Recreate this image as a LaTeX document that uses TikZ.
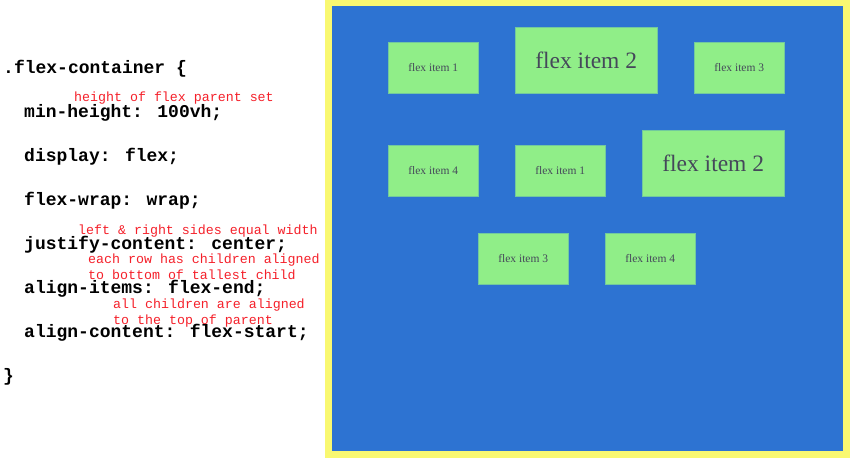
\documentclass[tikz,border=0pt]{standalone}
\usepackage{fontspec}
\newfontfamily\codefont{Liberation Mono}
\newfontfamily\itemfont{Liberation Serif}
\definecolor{panelblue}{HTML}{2D73D2}
\definecolor{itemgreen}{HTML}{90EE88}
\definecolor{frameyellow}{HTML}{F9F871}
\definecolor{itemtext}{HTML}{45485A}
\definecolor{notered}{HTML}{F5202A}
\tikzset{
  code/.style={anchor=base west, inner sep=0pt, font=\codefont\bfseries\fontsize{18}{20}\selectfont, text=black},
  note/.style={anchor=base west, inner sep=0pt, font=\codefont\fontsize{13.3}{15}\selectfont, text=notered},
  item/.style={anchor=north west, inner sep=0pt, fill=itemgreen, draw=itemgreen!70!panelblue, line width=0.4pt, text=itemtext, font=\itemfont\fontsize{11.5}{13}\selectfont, minimum width=90pt, minimum height=51pt},
  bigitem/.style={item, font=\itemfont\fontsize{23.5}{26}\selectfont, minimum width=142pt, minimum height=66pt}
}
\begin{document}
\begin{tikzpicture}[x=1pt,y=-1pt]
\useasboundingbox (0,0) rectangle (850,458);
\fill[white] (0,0) rectangle (850,458);
% frame
\fill[frameyellow] (325,0) rectangle (850,458);
\fill[panelblue] (332,6) rectangle (843,451);
% code
\node[code] (c0) at (3,73) {.flex-container \{};
\node[note] (n1) at (74,101) {height of flex parent set};
\node[code] (c1) at (24,117) {min-height: 100vh;};
\node[code] (c2) at (24,161) {display: flex;};
\node[code] (c3) at (24,205) {flex-wrap: wrap;};
\node[note] (n2) at (78,234) {left \& right sides equal width};
\node[code] (c4) at (24,249) {justify-content: center;};
\node[note] (n3) at (88,263) {each row has children aligned};
\node[note] (n4) at (88,279) {to bottom of tallest child};
\node[code] (c5) at (24,293) {align-items: flex-end;};
\node[note] (n5) at (113,308) {all children are aligned};
\node[note] (n6) at (113,324) {to the top of parent};
\node[code] (c6) at (24,337) {align-content: flex-start;};
\node[code] (c7) at (3,381) {\}};
% items row 1
\node[item] (r1a) at (388,42) {flex item 1};
\node[bigitem] (r1b) at (515,27) {flex item 2};
\node[item] (r1c) at (694,42) {flex item 3};
% row 2
\node[item] (r2a) at (388,145) {flex item 4};
\node[item] (r2b) at (515,145) {flex item 1};
\node[bigitem] (r2c) at (642,130) {flex item 2};
% row 3
\node[item] (r3a) at (478,233) {flex item 3};
\node[item] (r3b) at (605,233) {flex item 4};
\end{tikzpicture}
\end{document}
